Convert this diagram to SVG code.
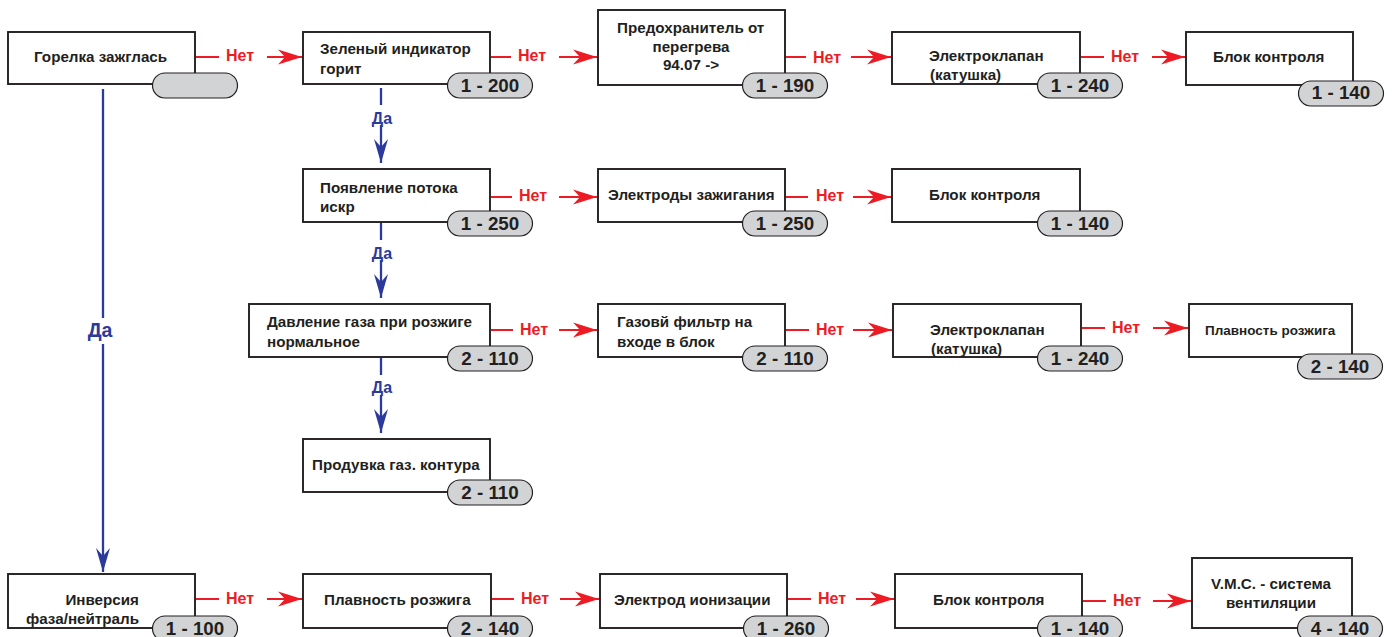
<svg xmlns="http://www.w3.org/2000/svg" width="1392" height="637" viewBox="0 0 1392 637">
<style>
text{font-family:"Liberation Sans",Arial,sans-serif;font-weight:700}
.box{fill:#fff;stroke:#231f20;stroke-width:1.9}
.pill{fill:#d1d3d4;stroke:#231f20;stroke-width:1.2}
.t{font-size:15.2px;fill:#231f20}
.s{font-size:13.5px;fill:#231f20}
.p{font-size:18.8px;fill:#231f20;text-anchor:middle}
.n{font-size:16px;fill:#ed1c24}
.d{font-size:16px;fill:#2b3a9b;text-anchor:middle}
.r{stroke:#ed1c24;stroke-width:2;fill:none}
.b{stroke:#2b3a9b;stroke-width:2.3;fill:none}
</style>
<defs>
<marker id="ra" markerUnits="userSpaceOnUse" markerWidth="25" markerHeight="16" refX="24" refY="8" orient="auto"><path d="M0 0.500L24 8L0 15.500L7 8Z" fill="#ed1c24"/></marker>
<marker id="ba" markerUnits="userSpaceOnUse" markerWidth="25" markerHeight="16" refX="24" refY="8" orient="auto"><path d="M0 1L24 8L0 15L8 8Z" fill="#2b3a9b"/></marker>
</defs>
<g id="connectors">
<path class="b" d="M103 89V318"/><path class="b" d="M103 344V572" marker-end="url(#ba)"/>
<path class="b" d="M381 88V105"/><path class="b" d="M381 125V163" marker-end="url(#ba)"/>
<path class="b" d="M381 222V240"/><path class="b" d="M381 260V298" marker-end="url(#ba)"/>
<path class="b" d="M381 358V375"/><path class="b" d="M381 395V433" marker-end="url(#ba)"/>
<path class="r" d="M196 57H219"/><path class="r" d="M267 57H302" marker-end="url(#ra)"/>
<path class="r" d="M491 57H511"/><path class="r" d="M559 57H597" marker-end="url(#ra)"/>
<path class="r" d="M786 57H806"/><path class="r" d="M851 57H891" marker-end="url(#ra)"/>
<path class="r" d="M1081 57H1104"/><path class="r" d="M1152 57H1185" marker-end="url(#ra)"/>
<path class="r" d="M491 197H512"/><path class="r" d="M559 197H597" marker-end="url(#ra)"/>
<path class="r" d="M786 197H808"/><path class="r" d="M853 197H891" marker-end="url(#ra)"/>
<path class="r" d="M491 330H513"/><path class="r" d="M559 330H597" marker-end="url(#ra)"/>
<path class="r" d="M786 330H809"/><path class="r" d="M853 330H892" marker-end="url(#ra)"/>
<path class="r" d="M1082 328H1105"/><path class="r" d="M1153 328H1188" marker-end="url(#ra)"/>
<path class="r" d="M196 599H219"/><path class="r" d="M267 599H302" marker-end="url(#ra)"/>
<path class="r" d="M492 599H514"/><path class="r" d="M560 599H599" marker-end="url(#ra)"/>
<path class="r" d="M788 599H811"/><path class="r" d="M856 599H894" marker-end="url(#ra)"/>
<path class="r" d="M1083 601H1106"/><path class="r" d="M1153 601H1191" marker-end="url(#ra)"/>
</g>
<g id="edge-labels">
<text class="n" x="226" y="61">Нет</text><text class="n" x="518" y="61">Нет</text><text class="n" x="813" y="63">Нет</text><text class="n" x="1111" y="62">Нет</text>
<text class="n" x="519" y="201">Нет</text><text class="n" x="816" y="201">Нет</text>
<text class="n" x="520" y="335">Нет</text><text class="n" x="816" y="335">Нет</text><text class="n" x="1112" y="333">Нет</text>
<text class="n" x="226" y="604">Нет</text><text class="n" x="521" y="604">Нет</text><text class="n" x="818" y="604">Нет</text><text class="n" x="1113" y="606">Нет</text>
<text class="d" x="382" y="124">Да</text><text class="d" x="382" y="259">Да</text><text class="d" x="382" y="393">Да</text>
<text class="d" x="100" y="337" style="font-size:19.500px">Да</text>
</g>
<g id="n1"><rect class="box" x="8" y="32" width="187" height="52"/><text class="t" x="34" y="62">Горелка зажглась</text><rect class="pill" x="152.500" y="73" width="85" height="25" rx="12.500"/></g>
<g id="n2"><rect class="box" x="303" y="32" width="187" height="52"/><text class="t" x="320" y="54">Зеленый индикатор</text><text class="t" x="320" y="74">горит</text><rect class="pill" x="447.500" y="73" width="85" height="25" rx="12.500"/><text class="p" x="490" y="92">1 - 200</text></g>
<g id="n3"><rect class="box" x="598" y="10" width="187" height="75"/><text class="t" x="617" y="33">Предохранитель от</text><text class="t" x="691" y="52" text-anchor="middle">перегрева</text><text class="t" x="691" y="70" text-anchor="middle">94.07 -&gt;</text><rect class="pill" x="742.500" y="73" width="85" height="25" rx="12.500"/><text class="p" x="785" y="92">1 - 190</text></g>
<g id="n4"><rect class="box" x="892" y="32" width="188" height="52"/><text class="t" x="929" y="61">Электроклапан</text><text class="t" x="930" y="80">(катушка)</text><rect class="pill" x="1037.500" y="73" width="85" height="25" rx="12.500"/><text class="p" x="1080" y="92">1 - 240</text></g>
<g id="n5"><rect class="box" x="1186" y="32" width="167" height="53"/><text class="t" x="1213" y="62">Блок контроля</text><rect class="pill" x="1298.500" y="81" width="85" height="25" rx="12.500"/><text class="p" x="1341" y="99">1 - 140</text></g>
<g id="n6"><rect class="box" x="303" y="169" width="187" height="53"/><text class="t" x="320" y="193">Появление потока</text><text class="t" x="320" y="212">искр</text><rect class="pill" x="447.500" y="211" width="85" height="25" rx="12.500"/><text class="p" x="490" y="230">1 - 250</text></g>
<g id="n7"><rect class="box" x="598" y="169" width="187" height="53"/><text class="t" x="608" y="200">Электроды зажигания</text><rect class="pill" x="742.500" y="211" width="85" height="25" rx="12.500"/><text class="p" x="785" y="230">1 - 250</text></g>
<g id="n8"><rect class="box" x="892" y="169" width="188" height="53"/><text class="t" x="929" y="200">Блок контроля</text><rect class="pill" x="1037.500" y="211" width="85" height="25" rx="12.500"/><text class="p" x="1080" y="230">1 - 140</text></g>
<g id="n9"><rect class="box" x="249" y="304" width="241" height="53"/><text class="t" x="267" y="327">Давление газа при розжиге</text><text class="t" x="267" y="347">нормальное</text><rect class="pill" x="447.500" y="346" width="85" height="25" rx="12.500"/><text class="p" x="490" y="365">2 - 110</text></g>
<g id="n10"><rect class="box" x="598" y="304" width="187" height="53"/><text class="t" x="617" y="327">Газовй фильтр на</text><text class="t" x="617" y="347">входе в блок</text><rect class="pill" x="742.500" y="346" width="85" height="25" rx="12.500"/><text class="p" x="785" y="365">2 - 110</text></g>
<g id="n11"><rect class="box" x="893" y="304" width="188" height="53"/><text class="t" x="930" y="335">Электроклапан</text><text class="t" x="931" y="354">(катушка)</text><rect class="pill" x="1037.500" y="346" width="85" height="25" rx="12.500"/><text class="p" x="1080" y="365">1 - 240</text></g>
<g id="n12"><rect class="box" x="1189" y="304" width="163" height="53"/><text class="s" x="1205" y="335">Плавность розжига</text><rect class="pill" x="1297.500" y="354" width="85" height="25" rx="12.500"/><text class="p" x="1340" y="373">2 - 140</text></g>
<g id="n13"><rect class="box" x="303" y="439" width="187" height="53"/><text class="t" x="312" y="470">Продувка газ. контура</text><rect class="pill" x="447.500" y="480" width="85" height="25" rx="12.500"/><text class="p" x="490" y="499">2 - 110</text></g>
<g id="n14"><rect class="box" x="8" y="574" width="187" height="54"/><text class="t" x="139" y="605" text-anchor="end">Инверсия</text><text class="t" x="139" y="624" text-anchor="end">фаза/нейтраль</text><rect class="pill" x="152.500" y="616" width="85" height="25" rx="12.500"/><text class="p" x="195" y="635">1 - 100</text></g>
<g id="n15"><rect class="box" x="303" y="574" width="188" height="54"/><text class="t" x="324" y="605">Плавность розжига</text><rect class="pill" x="447.500" y="616" width="85" height="25" rx="12.500"/><text class="p" x="490" y="635">2 - 140</text></g>
<g id="n16"><rect class="box" x="600" y="574" width="187" height="54"/><text class="t" x="614" y="605">Электрод ионизации</text><rect class="pill" x="743.500" y="616" width="85" height="25" rx="12.500"/><text class="p" x="786" y="635">1 - 260</text></g>
<g id="n17"><rect class="box" x="895" y="574" width="187" height="54"/><text class="t" x="933" y="605">Блок контроля</text><rect class="pill" x="1037.500" y="616" width="85" height="25" rx="12.500"/><text class="p" x="1080" y="635">1 - 140</text></g>
<g id="n18"><rect class="box" x="1192" y="558" width="160" height="70"/><text class="t" x="1271" y="589" text-anchor="middle">V.M.C. - система</text><text class="t" x="1271" y="608" text-anchor="middle">вентиляции</text><rect class="pill" x="1297.500" y="616" width="85" height="25" rx="12.500"/><text class="p" x="1340" y="635">4 - 140</text></g>
</svg>
